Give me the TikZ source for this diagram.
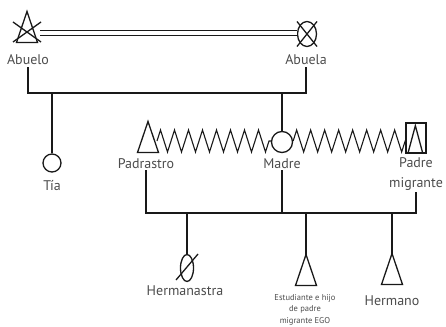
\documentclass[tikz,border=0pt]{standalone}
\usepackage{fontspec}
\setmainfont{PT Sans}
\usetikzlibrary{shapes.geometric,decorations.pathmorphing}

\tikzset{
  linea/.style={line width=1.3pt, black!90},
  etiq/.style={text=black!70, inner sep=2pt, font=\fontsize{14}{20}\selectfont},
  etiqchica/.style={text=black!70, inner sep=2pt, align=center, font=\fontsize{8.5}{11.5}\selectfont},
  resorte/.style={line width=1.1pt, black!90, decorate, decoration={zigzag, segment length=14pt, amplitude=11pt}},
  varon/.pic={
    \draw[linea] (0,-15.5) -- (10.5,15.5) -- (-10.5,15.5) -- cycle;
    \coordinate (-cima) at (0,-15.5);
  }
}

\begin{document}
\begin{tikzpicture}[x=1pt, y=-1pt]
\useasboundingbox (0,0) rectangle (446,326);

% abuelos
\pic (abuelo) at (27,27) {varon};
\draw[linea] (abuelo-cima) ++(-14,10.5) -- ++(28,20) ++(0,-20) -- ++(-28,20);
\node[linea, draw, ellipse, minimum width=19pt, minimum height=25pt, inner sep=0] (abuela) at (307,34) {};
\draw[linea] (abuela.center) ++(-10,-12.5) -- ++(20,25) ++(0,-25) -- ++(-20,25);
\coordinate (abuelo-der) at (40,33);
\draw[linea, double, double distance=3.5pt] (abuelo-der) -- (abuela.west |- abuelo-der);
\node[etiq, anchor=base] (abuelo-lbl) at (28,65) {Abuelo};
\node[etiq, anchor=base] (abuela-lbl) at (306,65) {Abuela};
\coordinate (riel1) at (0,93);
\draw[linea] (abuelo-lbl.south) -- (abuelo-lbl.south |- riel1) -- (abuela-lbl.south |- riel1) -- (abuela-lbl.south);

% tia
\node[linea, draw, circle, minimum size=18pt, inner sep=0] (tia) at (52,163) {};
\node[etiq, anchor=base] (tia-lbl) at (52,190) {Tía};
\draw[linea] (tia.north) -- (tia.north |- riel1);

% padres
\node[linea, draw, circle, minimum size=21pt, inner sep=0] (madre) at (282,142) {};
\draw[linea] (madre.north) -- (madre.north |- riel1);
\pic (padrastro) at (148,137) {varon};
\coordinate (padrastro-der) at (157,141);
\draw[resorte] (padrastro-der) -- (madre.west |- padrastro-der);
\node[linea, draw, minimum width=20pt, minimum height=30pt, inner sep=0] (padre) at (416,138) {};
\draw[linea] (padre.south west) ++(2.5,0) -- ++(7.5,-28) -- ++(7.5,28);
\draw[resorte] (madre.east |- padrastro-der) -- (padre.west |- padrastro-der);
\node[etiq, anchor=base] (padrastro-lbl) at (146,168) {Padrastro};
\node[etiq, anchor=base] (madre-lbl) at (282,168) {Madre};
\node[etiq, align=center, anchor=north] (padre-lbl) at (416,155) {Padre\\migrante};
\coordinate (riel2) at (0,213);
\draw[linea] (padrastro-lbl.south) -- (padrastro-lbl.south |- riel2) -- (padre-lbl.south |- riel2) -- (padre-lbl.south);
\draw[linea] (madre-lbl.south) -- (madre-lbl.south |- riel2);

% hijos
\node[linea, draw, ellipse, minimum width=13pt, minimum height=27pt, inner sep=0] (hermanastra) at (187,268) {};
\draw[linea] (hermanastra.center) ++(-11,12) -- ++(22,-26);
\draw[linea] (hermanastra.north) -- (hermanastra.north |- riel2);
\node[etiq, anchor=base] (hermanastra-lbl) at (185,295) {Hermanastra};
\pic (ego) at (306,270) {varon};
\draw[linea] (ego-cima) -- (ego-cima |- riel2);
\node[etiqchica, anchor=north] (ego-lbl) at (305,292) {Estudiante e hijo\\de padre\\migrante EGO};
\pic (hermano) at (392,269) {varon};
\draw[linea] (hermano-cima) -- (hermano-cima |- riel2);
\node[etiq, anchor=base] (hermano-lbl) at (392,305) {Hermano};
\end{tikzpicture}
\end{document}
